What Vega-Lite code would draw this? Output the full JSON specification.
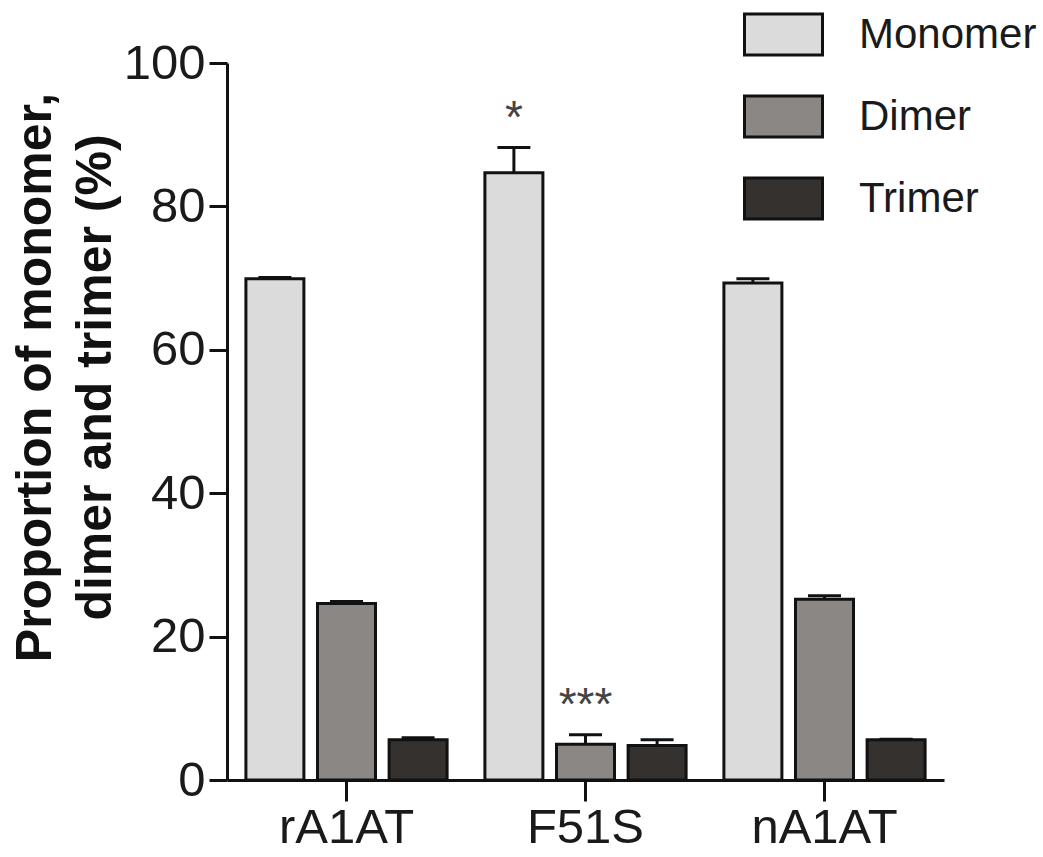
{
  "$schema": "https://vega.github.io/schema/vega-lite/v6.json",
  "width": 717,
  "height": 717,
  "autosize": {"type": "none"},
  "padding": {"left": 227, "top": 63, "right": 99, "bottom": 77},
  "background": "white",
  "config": {
    "view": {"stroke": null},
    "font": "Liberation Sans"
  },
  "data": {
    "values": [
      {"group": "rA1AT", "species": "Monomer", "value": 69.9, "upper": 70.1, "sig": ""},
      {"group": "rA1AT", "species": "Dimer", "value": 24.6, "upper": 24.9, "sig": ""},
      {"group": "rA1AT", "species": "Trimer", "value": 5.6, "upper": 5.9, "sig": ""},
      {"group": "F51S", "species": "Monomer", "value": 84.7, "upper": 88.2, "sig": "*"},
      {"group": "F51S", "species": "Dimer", "value": 5.0, "upper": 6.3, "sig": "***"},
      {"group": "F51S", "species": "Trimer", "value": 4.8, "upper": 5.6, "sig": ""},
      {"group": "nA1AT", "species": "Monomer", "value": 69.3, "upper": 69.9, "sig": ""},
      {"group": "nA1AT", "species": "Dimer", "value": 25.2, "upper": 25.7, "sig": ""},
      {"group": "nA1AT", "species": "Trimer", "value": 5.6, "upper": 5.7, "sig": ""}
    ]
  },
  "encoding": {
    "x": {
      "field": "group",
      "type": "nominal",
      "sort": ["rA1AT", "F51S", "nA1AT"],
      "scale": {"paddingInner": 0, "paddingOuter": 0},
      "axis": {
        "title": null,
        "labelAngle": 0,
        "labelFontSize": 49,
        "labelColor": "#1a1a1a",
        "labelPadding": 2,
        "tickSize": 21,
        "tickWidth": 3,
        "tickColor": "#111",
        "domainWidth": 3,
        "domainColor": "#111"
      }
    },
    "xOffset": {
      "field": "species",
      "type": "nominal",
      "scale": {"domain": ["Monomer", "Dimer", "Trimer"], "paddingInner": 0.19, "paddingOuter": 0.264}
    }
  },
  "layer": [
    {
      "mark": {"type": "bar", "stroke": "#111", "strokeWidth": 3},
      "encoding": {
        "y": {
          "field": "value",
          "type": "quantitative",
          "scale": {"domain": [0, 100], "nice": false},
          "axis": {
            "values": [0, 20, 40, 60, 80, 100],
            "grid": false,
            "labelFontSize": 49,
            "labelColor": "#1a1a1a",
            "labelPadding": 4,
            "tickSize": 18,
            "tickWidth": 3,
            "tickColor": "#111",
            "domainWidth": 3,
            "domainColor": "#111",
            "title": ["Proportion of monomer,", "dimer and trimer (%)"],
            "titleFontSize": 50,
            "titleFontWeight": "bold",
            "titleColor": "#111",
            "titleLineHeight": 60,
            "titleAngle": -90,
            "titleAlign": "center",
            "titleBaseline": "middle",
            "titleX": -192,
            "titleY": 314
          }
        },
        "fill": {
          "field": "species",
          "type": "nominal",
          "scale": {"domain": ["Monomer", "Dimer", "Trimer"], "range": ["#dcdbdc", "#8a8785", "#35312f"]},
          "legend": {
            "title": null,
            "orient": "none",
            "legendX": 516,
            "legendY": -69,
            "padding": 0,
            "symbolType": "M-1,-0.526H1V0.526H-1Z",
            "symbolSize": 6084,
            "symbolStrokeColor": "#111",
            "symbolStrokeWidth": 3,
            "labelFontSize": 42,
            "labelColor": "#1a1a1a",
            "labelOffset": 35,
            "labelLimit": 400,
            "rowPadding": 14
          }
        }
      }
    },
    {
      "mark": {"type": "rule", "stroke": "#111", "strokeWidth": 3},
      "encoding": {
        "y": {"field": "value", "type": "quantitative"},
        "y2": {"field": "upper"}
      }
    },
    {
      "mark": {"type": "tick", "color": "#111", "size": 33, "thickness": 3, "opacity": 1},
      "encoding": {
        "y": {"field": "upper", "type": "quantitative"}
      }
    },
    {
      "mark": {"type": "text", "fontSize": 46, "color": "#444", "baseline": "alphabetic", "dy": -15},
      "encoding": {
        "y": {"field": "upper", "type": "quantitative"},
        "text": {"field": "sig"}
      }
    }
  ]
}
